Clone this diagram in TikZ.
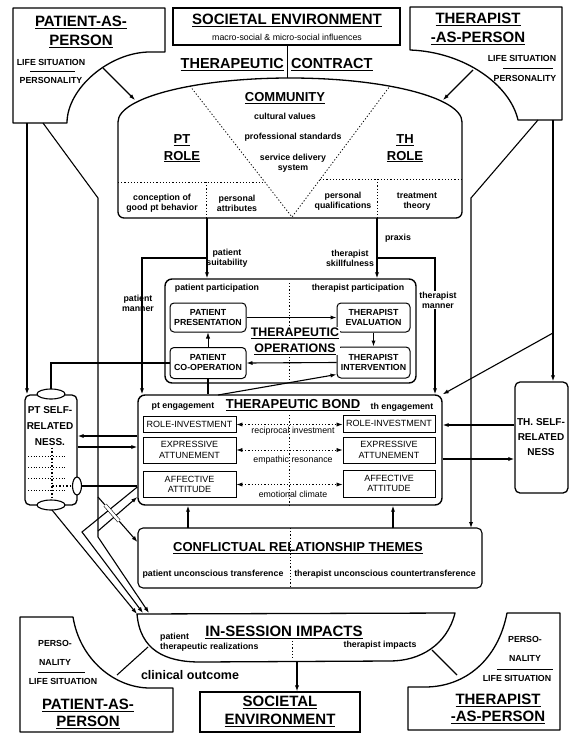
\documentclass[tikz,border=0pt]{standalone}
\usepackage{fontspec}
\setmainfont{Liberation Sans}
\usetikzlibrary{arrows.meta,calc,positioning}

\tikzset{
  bigtitle/.style={font=\fontsize{15}{19}\selectfont\bfseries,align=center,inner sep=0pt},
  midtitle/.style={font=\fontsize{13}{16.5}\selectfont\bfseries,align=center,inner sep=0pt},
  smalltext/.style={font=\fontsize{8.8}{10}\selectfont\bfseries,align=center,inner sep=0pt},
  plaintext/.style={font=\fontsize{8.8}{10}\selectfont,align=center,inner sep=0pt},
  opsbox/.style={draw,line width=1pt,rounded corners=4pt,minimum width=76pt,minimum height=29pt,inner sep=0pt,font=\fontsize{8.8}{10}\selectfont\bfseries,align=center},
  bondbox/.style={draw,line width=0.9pt,minimum width=93pt,inner sep=0pt,font=\fontsize{9}{10.5}\selectfont,align=center},
  frame/.style={draw,line width=1.4pt,rounded corners=7pt,inner sep=0pt},
  outline/.style={line width=1.3pt,line join=round},
  link/.style={line width=1.1pt},
  dotsep/.style={line width=0.8pt,dash pattern=on 1.2pt off 2pt},
}

\begin{document}
\begin{tikzpicture}[x=1pt,y=-1pt,>={Latex[length=6pt,width=4.2pt]}]
\useasboundingbox (0,0) rectangle (571,736);

% persons and environment at the top
\draw[outline] (13,8) -- (165,8) -- (165,52) -- (150,52) .. controls (110,52) and (67,88) .. (67,123) -- (13,123) -- cycle;
\draw[outline] (410,7) -- (562,7) -- (562,120) -- (518,120) .. controls (510,85) and (465,52) .. (410,50) -- cycle;
\node[draw,line width=1.2pt,minimum width=227pt,minimum height=37pt] (soctop) at (286.5,26.5) {};

\node[bigtitle] (ptatitle) at (81,31.5) {\underline{PATIENT-AS-}\\\underline{PERSON}};
\node[smalltext] (ptalife) at (51,62) {LIFE SITUATION};
\draw[line width=0.8pt] (30,71) -- (75,71);
\node[smalltext] (ptapers) at (51,80) {PERSONALITY};

\node[bigtitle] (thatitle) at (478,28.5) {\underline{THERAPIST}\\\underline{-AS-PERSON}};
\node[smalltext] (thalife) at (522,58) {LIFE SITUATION};
\draw[line width=0.8pt] (503,68) -- (553,68);
\node[smalltext] (thapers) at (525,78) {PERSONALITY};

\node[bigtitle] (soctitle) at (287,20) {\underline{SOCIETAL ENVIRONMENT}};
\node[plaintext] (socsub) at (287,37) {macro-social \& micro-social influences};

% therapeutic contract
\node[bigtitle,font=\fontsize{14.5}{17}\selectfont\bfseries,anchor=east] (ctthera) at (284,65) {\underline{THERAPEUTIC}};
\node[bigtitle,font=\fontsize{14.5}{17}\selectfont\bfseries,anchor=west] (ctcontr) at (291,65) {\underline{CONTRACT}};
\coordinate (ctjoin) at (287.5,78);
\draw[link] (soctop.south -| ctjoin) -- (ctjoin);
\draw[outline] (118,122) .. controls (118,97.7) and (195,78) .. (290,78) .. controls (385,78) and (462,97.7) .. (462,122);
\draw[outline,rounded corners=6pt] (118,122) -- (118,218) -- (462,218) -- (462,122);
\draw[dotsep] (190,86) -- (292,217) -- (390,86);
\draw[dotsep] (118,182) -- (265,182);
\draw[dotsep] (320,179) -- (462,179);
\draw[dotsep] (206,182) -- (206,218);
\draw[dotsep] (377,179) -- (377,218);

\node[midtitle] (comm) at (285,98) {\underline{COMMUNITY}};
\node[smalltext] (cultv) at (285,116) {cultural values};
\node[smalltext] (profs) at (293,137) {professional standards};
\node[smalltext] (servd) at (293,163) {service delivery\\system};
\node[midtitle] (ptrole) at (182,148.5) {\underline{PT}\\\underline{ROLE}};
\node[midtitle] (throle) at (405,148.5) {\underline{TH}\\\underline{ROLE}};
\node[smalltext] (concp) at (162,203) {conception of\\good pt behavior};
\node[smalltext] (pattr) at (237,203) {personal\\attributes};
\node[smalltext] (pqual) at (343,201) {personal\\qualifications};
\node[smalltext] (ttheo) at (417,201.5) {treatment\\theory};

\coordinate (ptacurve) at (103,68);
\coordinate (ctarcL) at (135,100);
\coordinate (thacurve) at (473,70);
\coordinate (ctarcR) at (443,100);
\draw[link,->] (ptacurve) -- (ctarcL);
\draw[link,->] (thacurve) -- (ctarcR);

% therapeutic operations
\node[frame,minimum width=251pt,minimum height=104pt] (ops) at (290.5,331) {};
\node[smalltext] (ptpart) at (217,288) {patient participation};
\node[smalltext] (thpart) at (358,288) {therapist participation};
\draw[dotsep] (289,283) -- (289,383);
\node[opsbox] (ptpres) at (208,317.5) {PATIENT\\PRESENTATION};
\node[opsbox,minimum width=73pt] (thevl) at (373.5,317.5) {THERAPIST\\EVALUATION};
\node[opsbox,minimum height=31pt] (ptcoop) at (208,363) {PATIENT\\CO-OPERATION};
\node[opsbox,minimum width=73pt,minimum height=31pt] (thint) at (373.5,362.5) {THERAPIST\\INTERVENTION};
\node[midtitle,font=\fontsize{12.4}{16}\selectfont\bfseries,fill=white,inner sep=1pt] (opstitle) at (295,341) {\underline{THERAPEUTIC}\\\underline{OPERATIONS}};
\draw[link,->] (ptpres.east) -- (thevl.west);
\draw[link,->] (thevl.south) -- (thint.north);
\draw[link,->] (thint.west) -- (ptcoop.east);
\draw[line width=0.6pt,->] (ptcoop.north) -- (ptpres.south);

% links from the contract
\coordinate (ctL) at (207,218);
\coordinate (ctR) at (377,218);
\coordinate (pmL) at (142,258);
\coordinate (pmR) at (435,258);
\draw[link,->] (ctL) -- (ctL |- ops.north);
\draw[link,->] (ctR) -- (ctR |- ops.north);
\node[smalltext] (ptsuit) at (227,258) {patient\\suitability};
\node[smalltext] (thskill) at (350,258) {therapist\\skillfulness};
\node[smalltext] (praxis) at (398,238) {praxis};

% therapeutic bond
\node[frame,minimum width=304pt,minimum height=110pt] (bond) at (290,450) {};
\draw[link,->] (ctL |- pmL) -- (pmL) -- (pmL |- bond.north);
\draw[link,->] (ctR |- pmR) -- (pmR) -- (pmR |- bond.north);
\node[smalltext] (ptmann) at (138,303) {patient\\manner};
\node[smalltext,fill=white,inner sep=1pt] (thmann) at (438,300) {therapist\\manner};

\node[smalltext] (pteng) at (183,407) {pt engagement};
\node[midtitle] (bondtitle) at (293,405) {\underline{THERAPEUTIC BOND}};
\node[smalltext] (theng) at (402,407) {th engagement};
\draw[dotsep] (289,415) -- (289,505);
\node[bondbox,minimum height=16pt] (ril) at (189.5,424.5) {ROLE-INVESTMENT};
\node[bondbox,minimum width=92pt,minimum height=17pt] (rir) at (389,423.5) {ROLE-INVESTMENT};
\node[bondbox,minimum height=26pt] (exl) at (189.5,450) {EXPRESSIVE\\ATTUNEMENT};
\node[bondbox,minimum width=92pt,minimum height=26pt] (exr) at (389,450) {EXPRESSIVE\\ATTUNEMENT};
\node[bondbox,minimum height=26pt] (afl) at (189.5,484.5) {AFFECTIVE\\ATTITUDE};
\node[bondbox,minimum width=92pt,minimum height=27pt] (afr) at (389,483.5) {AFFECTIVE\\ATTITUDE};
\draw[dotsep,<->] (ril.east) -- (ril.east -| rir.west);
\draw[dotsep,<->] (exl.east) -- (exr.west);
\draw[dotsep,<->] (afl.east) -- (afl.east -| afr.west);
\node[plaintext] (recip) at (293,431) {reciprocal investment};
\node[plaintext] (empat) at (293,460) {empathic resonance};
\node[plaintext] (emocl) at (293,494) {emotional climate};

\coordinate (bondtop) at (218,395);
\draw[link] (ptcoop.south) -- (ptcoop.south |- bond.north);
\draw[link,->] (bondtop) -- ($(thint.south west)+(0,-4)$);

% self-relatedness
\node[draw,line width=1.3pt,rounded corners=5pt,minimum width=52pt,minimum height=110pt] (ptself) at (51,450) {};
\node[draw,line width=1.3pt,rounded corners=5pt,minimum width=53pt,minimum height=111pt] (thself) at (541.5,437.5) {};
\foreach \yy in {431,443,456,467,478,490}
  \draw[line width=0.7pt,dash pattern=on 1pt off 1.8pt] (28,\yy) -- (67,\yy);
\draw[line width=1.6pt,dash pattern=on 1.5pt off 2pt] (52,430) -- (52,500);
\draw[line width=1.6pt,dash pattern=on 1.5pt off 2pt] (52,486) -- (73,486);
\node[bigtitle,font=\fontsize{10}{16}\selectfont\bfseries,fill=white,inner sep=0.5pt] (ptselft) at (50,426) {PT SELF-\\RELATED\\NESS.};
\node[bigtitle,font=\fontsize{10}{15}\selectfont\bfseries] (thselft) at (541,437) {TH. SELF-\\RELATED\\NESS};

\coordinate (ptselfT) at (51,389);
\draw[link] (ptcoop.west) -- (ptcoop.west -| ptselfT) -- (ptselfT);
\draw[line width=1.1pt,fill=white] (51,394) ellipse [x radius=14pt,y radius=5pt];
\draw[line width=1.1pt,fill=white] (51,505) ellipse [x radius=14pt,y radius=5pt];
\draw[line width=1.1pt,fill=white] (77,486) ellipse [x radius=4.5pt,y radius=9pt];

\coordinate (pa1) at (27,123);
\coordinate (pa2) at (43,123);
\coordinate (tha1) at (538,120);
\coordinate (tha2) at (553,120);
\coordinate (thb) at (553,333);
\draw[link,->] (pa1) -- (pa1 |- ptself.north);
\draw[link,->] (tha2) -- (tha2 |- thself.north);
\draw[link,->] (thb) -- (bond.north east);

\coordinate (yb1) at (0,436);
\coordinate (yb2) at (0,447);
\coordinate (yb3) at (0,486);
\coordinate (yb4) at (0,487);
\coordinate (yb5) at (0,497);
\coordinate (yc1) at (0,542);
\coordinate (yt1) at (0,425);
\coordinate (yt2) at (0,459);
\draw[link,->] (bond.west |- yb1) -- (ptself.east |- yb1);
\draw[link,->] (ptself.east |- yb2) -- (bond.west |- yb2);
\draw[link] (81.5,486) -- (bond.west |- yb3);
\draw[link,->] (thself.west |- yt1) -- (bond.east |- yt1);
\draw[link,->] (bond.east |- yt2) -- (thself.west |- yt2);

% conflictual relationship themes
\node[draw,line width=1.1pt,rounded corners=5pt,minimum width=344pt,minimum height=60pt] (crt) at (310,558) {};
\node[midtitle] (crttitle) at (298,548) {\underline{CONFLICTUAL RELATIONSHIP THEMES}};
\draw[dotsep] (290,528) -- (290,588);
\node[smalltext] (ptut) at (213,574) {patient unconscious transference};
\node[smalltext,fill=white,inner sep=1pt] (thuct) at (385,574) {therapist unconscious countertransference};
\coordinate (cu1) at (188,528);
\coordinate (cu2) at (393,528);
\draw[link,->] (cu1) -- (cu1 |- bond.south);
\draw[link,->] (cu2) -- (cu2 |- bond.south);
\draw[link,->] (tha1) -- (471,198) -- (471,528);

% in-session impacts
\draw[outline] (137,614) -- (455,613) .. controls (447,645) and (420,661) .. (390,661) -- (200,662) .. controls (165,662) and (140,650) .. (137,614) -- cycle;
\node[bigtitle] (institle) at (284,632) {\underline{IN-SESSION IMPACTS}};
\node[smalltext,anchor=west] (insp) at (160,637) {patient};
\node[smalltext,anchor=west] (insr) at (160,647) {therapeutic realizations};
\node[smalltext] (inst) at (380,645) {therapist impacts};
\draw[dotsep] (292,641) -- (292,660);

% paths down to the session
\coordinate (ptselfB) at (52,510);
\coordinate (insA) at (137,614);
\coordinate (insB) at (143,613);
\coordinate (insC) at (149,613);
\draw[link,->] (ptselfB) -- (insA);
\draw[link,->] (bond.west |- yb4) -- (82,532) -- (insB);
\draw[link,->] (pa2) -- (98,198) -- (98,537) -- (insC);
\draw[link,->] (98,531) -- (bond.west |- yb5);
\draw[link,->] (98,497) -- (crt.west |- yc1);
\draw[line width=0.6pt,double,double distance=2.6pt] (105,505) -- (119,521);

% bottom row
\draw[outline] (20,617) -- (73,617) .. controls (80,660) and (115,688) .. (150,688) -- (173,688) -- (173,732) -- (20,732) -- cycle;
\draw[outline] (507,613) -- (560,613) -- (560,730) -- (408,730) -- (408,687) -- (425,687) .. controls (465,687) and (498,660) .. (507,613) -- cycle;
\node[draw,line width=1.2pt,minimum width=160pt,minimum height=40pt] (socbot) at (280,712) {};
\node[bigtitle,font=\fontsize{15}{18}\selectfont\bfseries] (socbott) at (280,711) {\underline{SOCIETAL}\\\underline{ENVIRONMENT}};
\coordinate (insbot) at (297,661.5);
\draw[link,->] (insbot) -- (insbot |- socbot.north);

\node[smalltext] (ptbpers) at (55,643) {PERSO-};
\node[smalltext] (ptbnal) at (55,662) {NALITY};
\draw[line width=0.8pt] (38,672) -- (85,672);
\node[smalltext] (ptblife) at (63,681) {LIFE SITUATION};
\node[bigtitle,font=\fontsize{15}{17}\selectfont\bfseries] (ptbtitle) at (88,713.5) {\underline{PATIENT-AS-}\\\underline{PERSON}};

\node[smalltext] (thbpers) at (525,639) {PERSO-};
\node[smalltext] (thbnal) at (525,658) {NALITY};
\draw[line width=0.8pt] (497,669) -- (553,669);
\node[smalltext] (thblife) at (517,678) {LIFE SITUATION};
\node[bigtitle,font=\fontsize{15}{17}\selectfont\bfseries] (thbtitle) at (498,709) {\underline{THERAPIST}\\\underline{-AS-PERSON}};

\node[midtitle,font=\fontsize{12.5}{14}\selectfont\bfseries] (clinout) at (190,675) {clinical outcome};
\coordinate (insL) at (148,647);
\coordinate (ptbcurve) at (117,675);
\coordinate (insR) at (432,650);
\coordinate (thbcurve) at (457,675);
\draw[link] (insL) -- (ptbcurve);
\draw[link] (insR) -- (thbcurve);
\end{tikzpicture}
\end{document}
